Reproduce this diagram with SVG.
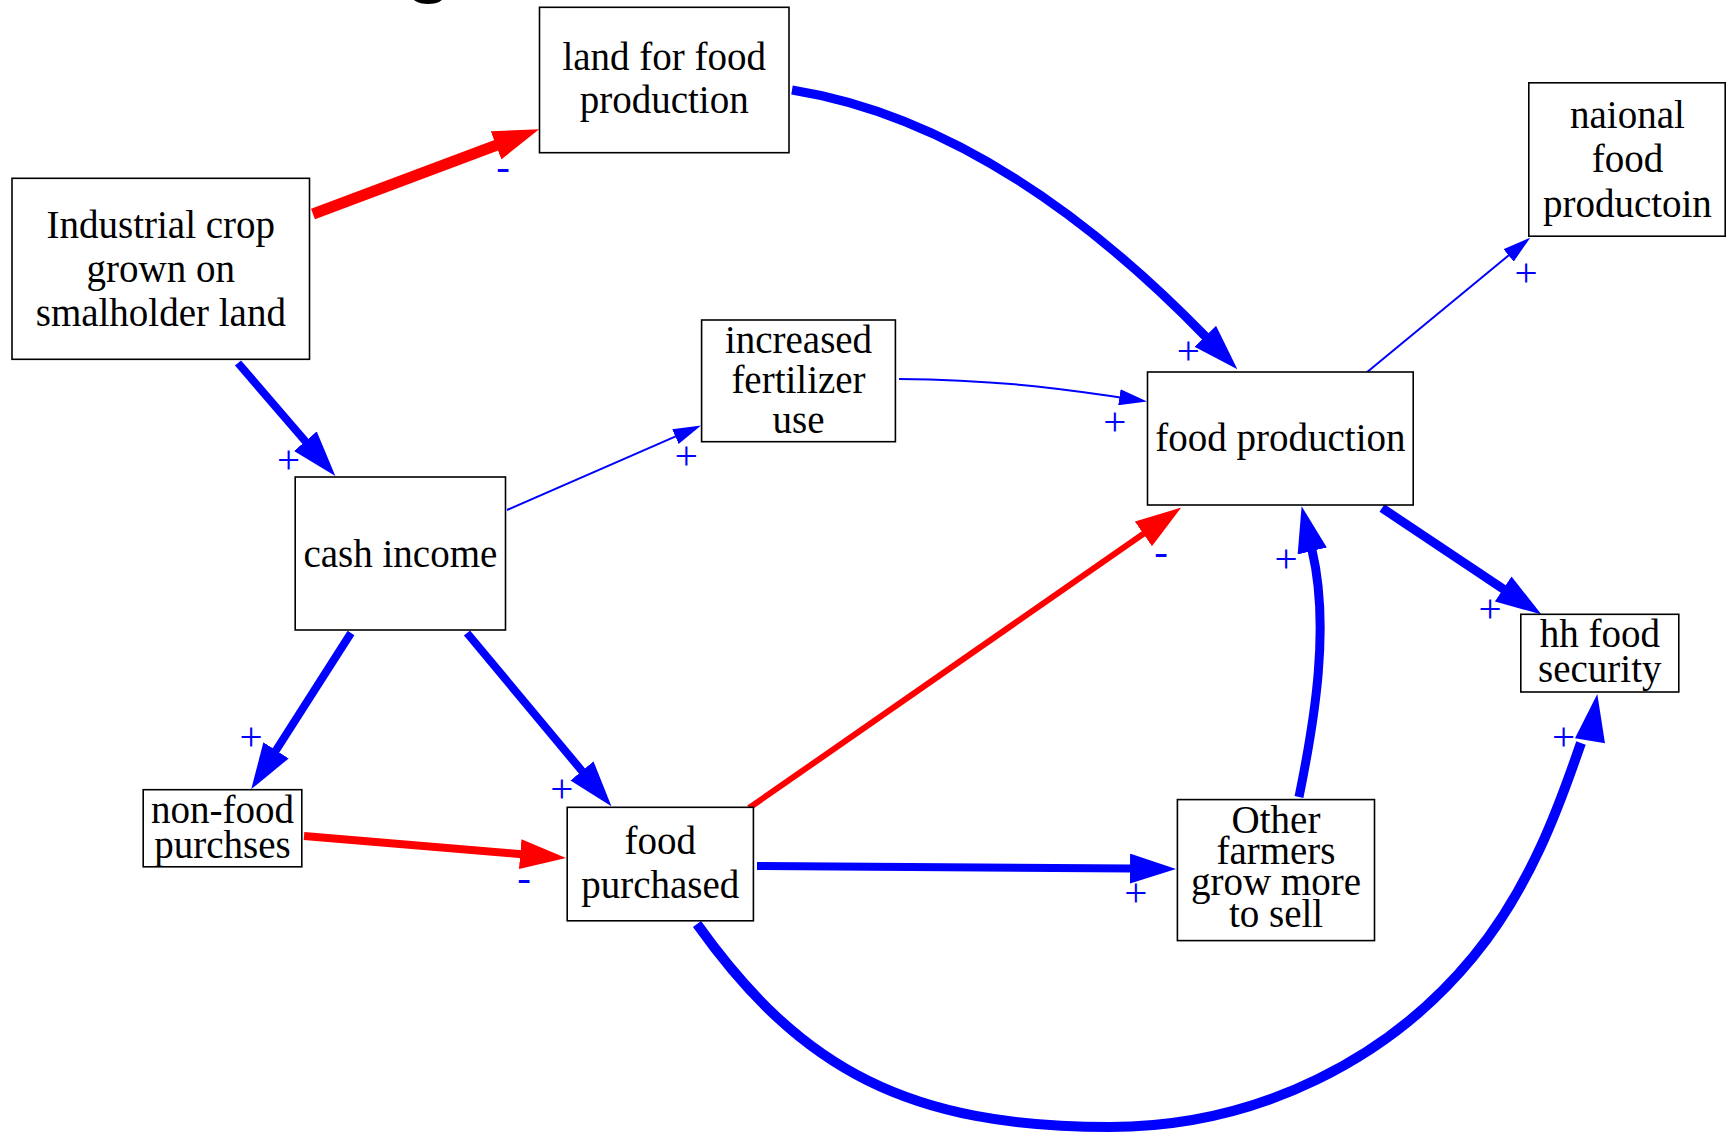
<svg xmlns="http://www.w3.org/2000/svg" width="1727" height="1132" viewBox="0 0 1727 1132">
<style>
.box{fill:#fff;stroke:#000;stroke-width:1.6}
.t{font-family:"Liberation Serif","Times New Roman",serif;font-size:39px;text-anchor:middle;fill:#000}
.lab{font-family:"Liberation Serif","Times New Roman",serif;font-size:41px;text-anchor:middle;fill:#0000ff}
.b{fill:none;stroke:#0000ff}
.r{fill:none;stroke:#ff0000}
.bb{marker-end:url(#hb)}
.br{marker-end:url(#hr)}
.bs{marker-end:url(#hs)}
</style>
<defs>
<marker id="hb" viewBox="0 0 46 30" refX="1" refY="15" markerWidth="46" markerHeight="30" markerUnits="userSpaceOnUse" orient="auto"><path d="M0,0 L46,15 L0,30 z" fill="#0000ff"/></marker>
<marker id="hr" viewBox="0 0 46 30" refX="1" refY="15" markerWidth="46" markerHeight="30" markerUnits="userSpaceOnUse" orient="auto"><path d="M0,0 L46,15 L0,30 z" fill="#ff0000"/></marker>
<marker id="hs" viewBox="0 0 28 16" refX="1" refY="8" markerWidth="28" markerHeight="16" markerUnits="userSpaceOnUse" orient="auto"><path d="M0,0 L28,8 L0,16 z" fill="#0000ff"/></marker>
</defs>
<rect width="1727" height="1132" fill="#fff"/>
<text x="429" y="-13" style="font-family:'Liberation Sans',Arial,sans-serif;font-weight:bold;font-size:80px;text-anchor:middle;fill:#000">g</text>

<g id="connectors">
<path class="r br" stroke-width="11" d="M313,214 L497,145"/>
<path class="b bb" stroke-width="8" d="M238,363 L306,442"/>
<path class="b bs" stroke-width="2" d="M507,510 L676.3,436.2"/>
<path class="b bs" stroke-width="2" d="M899,379 C1000,380 1065,389 1120.4,397.4"/>
<path class="b bb" stroke-width="9" d="M792,90 Q998,123 1206,337"/>
<path class="b bs" stroke-width="2" d="M1366,373 L1509.4,254.8"/>
<path class="b bb" stroke-width="9" d="M1382,508 L1504,589.5"/>
<path class="b bb" stroke-width="8" d="M351,633 L275.5,751.2"/>
<path class="b bb" stroke-width="8" d="M467,633 L582.6,771.7"/>
<path class="r br" stroke-width="8" d="M304,836 L521.2,854.2"/>
<path class="r br" stroke-width="6" d="M749,808 L1144.2,533.3"/>
<path class="b bb" stroke-width="8" d="M757,866 L1131,868.6"/>
<path class="b bb" stroke-width="9" d="M1299,797 C1315,718.6 1330,625.8 1312,550"/>
<path class="b" stroke-width="10" d="M697,924 C801.4,1070.7 910,1127 1110,1127 C1260,1127 1390.9,1057.2 1473.3,956.7 C1536.6,879.5 1565.3,786.9 1581,743"/>
<polygon points="1575,738.3 1597.3,694 1605,743.3" fill="#0000ff"/>
<text class="lab" x="503" y="180">-</text>
<text class="lab" x="288.6" y="473">+</text>
<text class="lab" x="686.2" y="469">+</text>
<text class="lab" x="1114.7" y="435.3">+</text>
<text class="lab" x="1188.3" y="364">+</text>
<text class="lab" x="1526" y="286">+</text>
<text class="lab" x="1490" y="621.8">+</text>
<text class="lab" x="251" y="749.5">+</text>
<text class="lab" x="561.8" y="801.8">+</text>
<text class="lab" x="524.2" y="890.5">-</text>
<text class="lab" x="1161" y="564.5">-</text>
<text class="lab" x="1135.8" y="905.6">+</text>
<text class="lab" x="1286" y="572.2">+</text>
<text class="lab" x="1563.5" y="749.7">+</text>
</g>

<g id="industrial">
<rect class="box" x="12" y="178.3" width="297.5" height="181"/>
<text class="t" x="160.8" y="237.7">Industrial crop</text>
<text class="t" x="160.8" y="281.7">grown on</text>
<text class="t" x="160.8" y="325.5">smalholder land</text>
</g>
<g id="land">
<rect class="box" x="539.5" y="7.3" width="249.5" height="145.4"/>
<text class="t" x="664.2" y="70">land for food</text>
<text class="t" x="664.2" y="113.3">production</text>
</g>
<g id="naional">
<rect class="box" x="1528.8" y="82.8" width="196.4" height="153.4"/>
<text class="t" x="1627.4" y="127.6">naional</text>
<text class="t" x="1627.4" y="172">food</text>
<text class="t" x="1627.4" y="216.7">productoin</text>
</g>
<g id="fertilizer">
<rect class="box" x="701.6" y="320" width="193.8" height="121.7"/>
<text class="t" x="798.5" y="353.3">increased</text>
<text class="t" x="798.5" y="393.3">fertilizer</text>
<text class="t" x="798.5" y="432.5">use</text>
</g>
<g id="cash">
<rect class="box" x="295.2" y="477" width="210.3" height="153"/>
<text class="t" x="400.4" y="566.7">cash income</text>
</g>
<g id="foodprod">
<rect class="box" x="1147.5" y="372" width="265.7" height="133"/>
<text class="t" x="1280.4" y="451">food production</text>
</g>
<g id="hh">
<rect class="box" x="1520.8" y="614.3" width="158" height="77.7"/>
<text class="t" x="1599.8" y="646.7">hh food</text>
<text class="t" x="1599.8" y="682">security</text>
</g>
<g id="nonfood">
<rect class="box" x="143.2" y="789.7" width="158.6" height="77.1"/>
<text class="t" x="222.5" y="823.3">non-food</text>
<text class="t" x="222.5" y="858.3">purchses</text>
</g>
<g id="foodpurch">
<rect class="box" x="567.2" y="807.3" width="186.2" height="113.5"/>
<text class="t" x="660.3" y="854">food</text>
<text class="t" x="660.3" y="898.3">purchased</text>
</g>
<g id="other">
<rect class="box" x="1177.4" y="799.6" width="197.1" height="141"/>
<text class="t" x="1276" y="833.3">Other</text>
<text class="t" x="1276" y="864.3">farmers</text>
<text class="t" x="1276" y="895">grow more</text>
<text class="t" x="1276" y="927.3">to sell</text>
</g>
</svg>
